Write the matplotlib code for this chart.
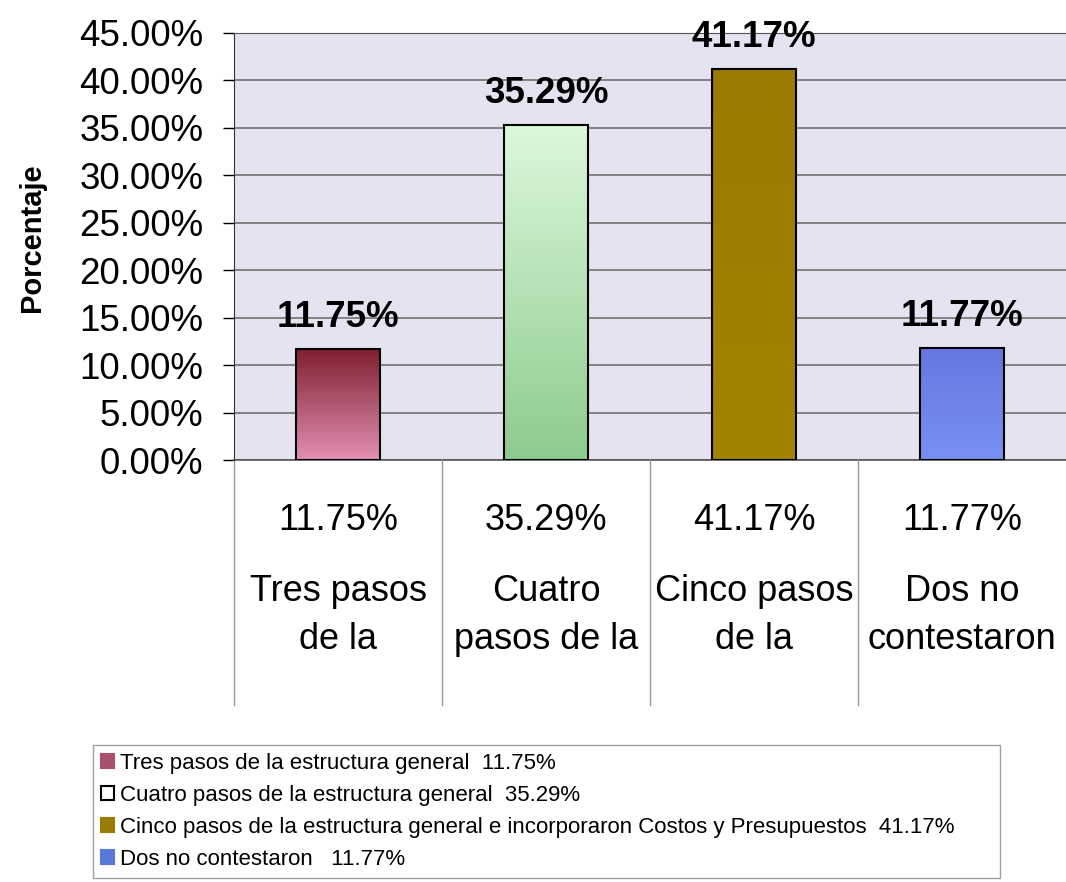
import numpy as np
import matplotlib.pyplot as plt
from matplotlib.patches import Patch
from matplotlib.colors import LinearSegmentedColormap

plt.rcParams['font.family'] = ['Liberation Sans', 'DejaVu Sans']

# ── data ───────────────────────────────────────────────────────
categories = ['Tres pasos\nde la', 'Cuatro\npasos de la', 'Cinco pasos\nde la', 'Dos no\ncontestaron']
values = [11.75, 35.29, 41.17, 11.77]
value_labels = ['11.75%', '35.29%', '41.17%', '11.77%']
legend_labels = [
    'Tres pasos de la estructura general  11.75%',
    'Cuatro pasos de la estructura general  35.29%',
    'Cinco pasos de la estructura general e incorporaron Costos y Presupuestos  41.17%',
    'Dos no contestaron   11.77%',
]
yticks = np.arange(0, 50, 5)

# gradient top -> bottom for each bar
grad_colors = [('#7e1f30', '#e28fb2'), ('#dcf7dc', '#8ecb8e'),
               ('#9a7a00', '#a38400'), ('#6677e0', '#7890f2')]
legend_colors = ['#a85070', '#ffffff', '#9a7d00', '#5a78d8']
legend_edges = ['#a85070', '#000000', '#9a7d00', '#5a78d8']

fig = plt.figure(figsize=(10.66, 8.82), dpi=100)
ax = fig.add_axes([234 / 1066, 1 - 460 / 882, 832 / 1066, 427 / 882])
ax.set_facecolor('#e4e3ef')

x = np.arange(len(values))
bars = ax.bar(x, values, width=0.4, color='none', edgecolor='black', lw=1.5, zorder=3)
for b, (c_top, c_bot) in zip(bars, grad_colors):
    cmap = LinearSegmentedColormap.from_list('g', [c_bot, c_top])
    x0, y0 = b.get_x(), b.get_y()
    w, h = b.get_width(), b.get_height()
    im = ax.imshow(np.linspace(0, 1, 100).reshape(-1, 1), cmap=cmap, origin='lower',
                   extent=[x0, x0 + w, y0, y0 + h], aspect='auto', zorder=2)
    im.set_clip_path(b)

for xi, v, lab in zip(x, values, value_labels):
    ax.annotate(lab, (xi, v), xytext=(0, 10), textcoords='offset points',
                ha='center', va='bottom', fontsize=26.5, fontweight='bold', zorder=5)

ax.set_xlim(-0.5, 3.5)
ax.set_ylim(0, 45)
ax.set_yticks(yticks)
ax.set_yticklabels([f'{t:.2f}%' for t in yticks], fontsize=26.5)
ax.tick_params(axis='y', length=8, width=1, pad=14)
ax.set_xticks([])
ax.yaxis.grid(True, color='#7a7a7a', lw=1.3)
ax.set_axisbelow(True)
for s in ['right', 'bottom']:
    ax.spines[s].set_visible(False)
ax.spines['top'].set_color('#555555')
ax.spines['left'].set_color('#333333')
ax.set_ylabel('Porcentaje', fontsize=21, fontweight='bold')
ax.yaxis.set_label_coords(-0.226, 0.52)

# ── data table under the axis ─────────────────────────────────
tr = ax.get_xaxis_transform()
ax.plot([-0.5, 3.5], [0, 0], color='#555555', lw=1.2, transform=tr, clip_on=False)
for bx in np.arange(-0.5, 4.0, 1.0)[:-1]:
    ax.plot([bx, bx], [0, -0.574], color='#999999', lw=1, transform=tr, clip_on=False)
for xi, lab, cat in zip(x, value_labels, categories):
    ax.text(xi, -0.141, lab, transform=tr, ha='center', va='center', fontsize=26)
    l1, l2 = cat.split('\n')
    ax.text(xi, -0.309, l1, transform=tr, ha='center', va='center', fontsize=26)
    ax.text(xi, -0.421, l2, transform=tr, ha='center', va='center', fontsize=26)

# ── legend ─────────────────────────────────────────────────────
handles = [Patch(facecolor=fc, edgecolor=ec, lw=1.5) for fc, ec in zip(legend_colors, legend_edges)]
leg = fig.legend(handles, legend_labels, loc='upper left',
                 bbox_to_anchor=(93 / 1066, 1 - 880 / 882, 907 / 1066, 135 / 882),
                 mode='expand', fontsize=16, frameon=True, fancybox=False,
                 handlelength=0.6, handleheight=0.6, handletextpad=0.25,
                 labelspacing=0.5, borderaxespad=0, borderpad=0.35)
leg.get_frame().set_edgecolor('#888888')
leg.get_frame().set_linewidth(1)

fig.savefig('out.png', dpi=100)
